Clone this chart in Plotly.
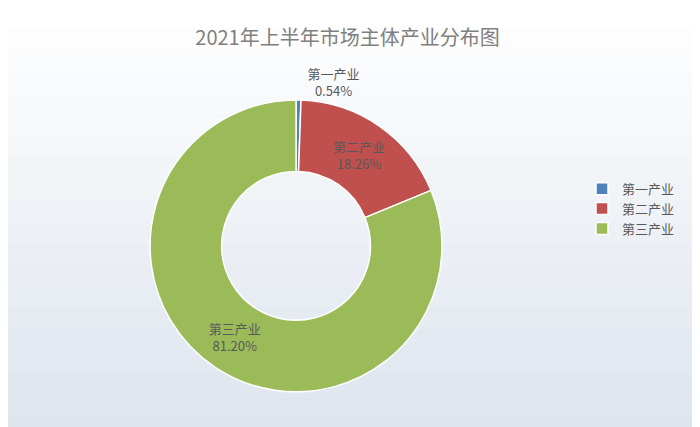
import plotly.graph_objects as go

labels = ["第一产业", "第二产业", "第三产业"]
values = [0.54, 18.26, 81.20]
colors = ["#4f81bd", "#c0504d", "#9bbb59"]
title = "2021年上半年市场主体产业分布图"

fig = go.Figure(go.Pie(
    labels=labels, values=values, sort=False, direction="clockwise", rotation=0,
    hole=0.51, marker=dict(colors=colors, line=dict(color="white", width=1.5)),
    texttemplate="%{label}<br>%{value:.2f}%", textposition=["outside", "inside", "inside"],
    insidetextorientation="horizontal",
    textfont=dict(color="#595959", size=13, family="Noto Sans CJK SC"),
    domain=dict(x=[0.203, 0.62], y=[0.101, 0.785]),
))
shapes = []
n = 20
for i in range(n):
    t = i / (n - 1)
    r = int(255 - 33 * t); g = int(255 - 26 * t); b = int(255 - 17 * t)
    shapes.append(dict(type="rect", xref="paper", yref="paper", x0=-0.05, x1=1.05,
                       y0=1 - (i + 1) / n, y1=1 - i / n, line=dict(width=0),
                       fillcolor=f"rgb({r},{g},{b})", layer="below"))
fig.update_layout(
    width=700, height=427, margin=dict(l=0, r=0, t=0, b=0),
    paper_bgcolor="rgb(240,243,248)", shapes=shapes,
    title=dict(text=title, x=0.485, y=0.945, xanchor="center",
               font=dict(size=20, color="#7f7f7f", family="Noto Sans CJK SC")),
    legend=dict(x=0.82, y=0.53, xanchor="left", yanchor="middle",
                font=dict(size=13, color="#595959", family="Noto Sans CJK SC"),
                bgcolor="rgba(0,0,0,0)", tracegroupgap=0),
    showlegend=True,
)
fig.write_html("out.html")
